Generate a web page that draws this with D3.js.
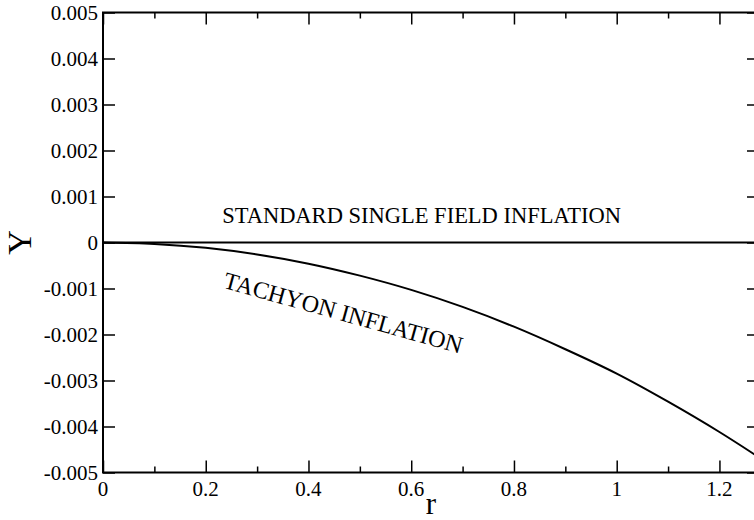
<!DOCTYPE html>
<html>
<head>
<meta charset="utf-8">
<script src="https://cdn.jsdelivr.net/npm/d3@7"></script>
<style>
  body { margin: 0; background: #fff; }
  svg { display: block; }
  svg text { font-family: "Liberation Serif", "DejaVu Serif", serif; fill: #000; }
  .frame { fill: none; stroke: #000; stroke-width: 2; }
  .tick line { stroke: #000; stroke-width: 1.5; }
  .curve { fill: none; stroke: #000; stroke-width: 2; }
</style>
</head>
<body>
<div class="chart"></div>
<script>
// values
const rValues = [0, 0.1, 0.2, 0.3, 0.4, 0.5, 0.6, 0.7, 0.8, 0.9, 1.0, 1.1, 1.2, 1.277];
const tachyonY = [0, -0.00003, -0.000115, -0.00026, -0.00046, -0.00072, -0.00103,
  -0.0014, -0.00183, -0.00232, -0.00285, -0.00346, -0.00412, -0.00467];
const standardY = [0, 0, 0, 0, 0, 0, 0, 0, 0, 0, 0, 0, 0, 0];
const xTicks = [0, 0.2, 0.4, 0.6, 0.8, 1, 1.2];
const xMinorTicks = [0.1, 0.3, 0.5, 0.7, 0.9, 1.1];
const yTicks = [-0.005, -0.004, -0.003, -0.002, -0.001, 0, 0.001, 0.002, 0.003, 0.004, 0.005];
const labels = ["STANDARD SINGLE FIELD INFLATION", "TACHYON INFLATION"];

const width = 754;
const height = 520;
const margin = { top: 12.5, right: -5, bottom: 47.5, left: 103 };

function buildChart() {
  const svg = d3.select("div.chart")
    .append("svg")
    .attr("width", width)
    .attr("height", height);

  const x = d3.scaleLinear()
    .domain([0, 1.277])
    .range([margin.left, width - margin.right]);
  const y = d3.scaleLinear()
    .domain([-0.005, 0.005])
    .range([height - margin.bottom, margin.top]);

  // plain hyphen for negatives, like the original
  const fmt = (d) => String(+d.toFixed(3));

  // bottom + top axes (ticks pointing in)
  const bottom = svg.append("g")
    .attr("transform", `translate(0,${y(-0.005)})`)
    .call(d3.axisTop(x).tickValues(xTicks).tickSize(12).tickFormat(""));
  bottom.append("g")
    .call(d3.axisTop(x).tickValues(xMinorTicks).tickSize(6).tickFormat(""));
  svg.append("g")
    .attr("class", "xlabels")
    .selectAll("text")
    .data(xTicks)
    .join("text")
    .attr("x", (d) => x(d))
    .attr("y", y(-0.005) + 23)
    .attr("text-anchor", "middle")
    .attr("font-size", 21)
    .text(fmt);

  const top = svg.append("g")
    .attr("transform", `translate(0,${y(0.005)})`)
    .call(d3.axisBottom(x).tickValues(xTicks).tickSize(12).tickFormat(""));
  top.append("g")
    .call(d3.axisBottom(x).tickValues(xMinorTicks).tickSize(6).tickFormat(""));

  // left + right axes
  svg.append("g")
    .attr("transform", `translate(${x(0)},0)`)
    .call(d3.axisRight(y).tickValues(yTicks).tickSize(12).tickFormat(""));
  svg.append("g")
    .attr("transform", `translate(${x(1.277)},0)`)
    .call(d3.axisLeft(y).tickValues(yTicks).tickSize(12).tickFormat(""));
  svg.append("g")
    .attr("class", "ylabels")
    .selectAll("text")
    .data(yTicks)
    .join("text")
    .attr("x", x(0) - 5)
    .attr("y", (d) => y(d))
    .attr("dy", "0.35em")
    .attr("text-anchor", "end")
    .attr("font-size", 21)
    .text(fmt);

  svg.selectAll(".domain").remove();

  svg.append("rect")
    .attr("class", "frame")
    .attr("x", x(0))
    .attr("y", y(0.005))
    .attr("width", x(1.277) - x(0))
    .attr("height", y(-0.005) - y(0.005));

  const line = d3.line()
    .x((d) => x(d[0]))
    .y((d) => y(d[1]))
    .curve(d3.curveMonotoneX);

  svg.append("path")
    .attr("class", "curve")
    .attr("d", line(d3.zip(rValues, standardY)));
  svg.append("path")
    .attr("class", "curve")
    .attr("d", line(d3.zip(rValues, tachyonY)));

  // annotations
  svg.append("text")
    .attr("x", x(0.232))
    .attr("y", y(0.00042))
    .attr("font-size", 22.5)
    .text(labels[0]);
  svg.append("text")
    .attr("transform", `translate(${x(0.232)},${y(-0.00098)}) rotate(15.5)`)
    .attr("font-size", 24)
    .text(labels[1]);

  // axis titles
  svg.append("text")
    .attr("x", 431)
    .attr("y", 514)
    .attr("text-anchor", "middle")
    .attr("font-size", 31)
    .text("r");
  svg.append("text")
    .attr("transform", `translate(31,${y(0)}) rotate(-90)`)
    .attr("text-anchor", "middle")
    .attr("font-size", 34)
    .text("Y");
}

addEventListener("DOMContentLoaded", buildChart);
</script>
</body>
</html>
